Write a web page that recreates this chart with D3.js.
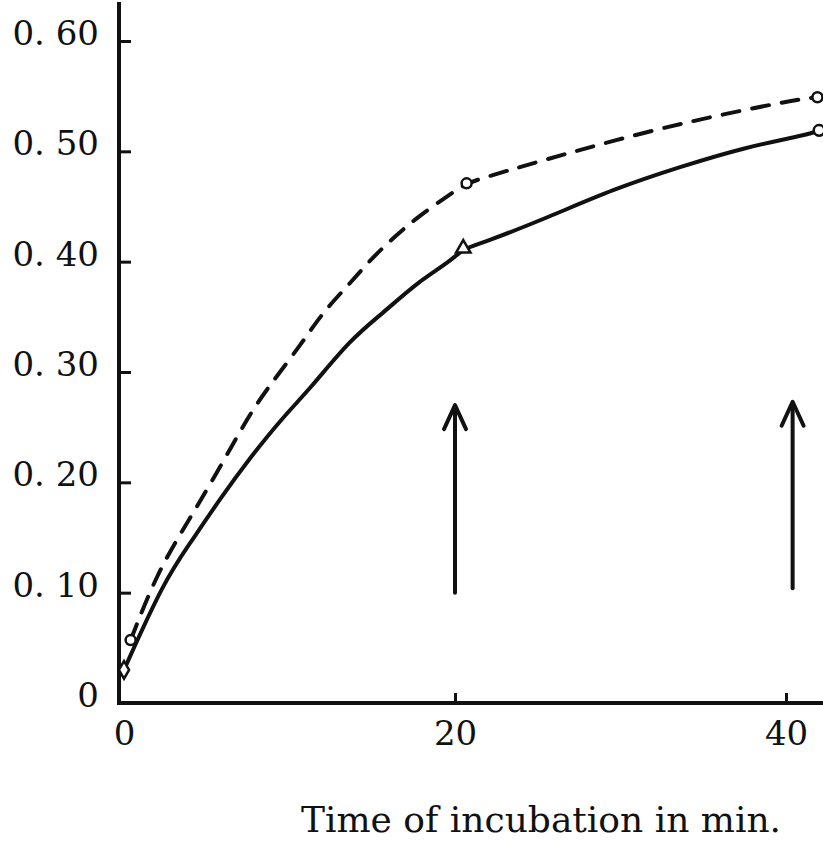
<!DOCTYPE html>
<html>
  <head>
    <title>Time of incubation</title>
    <script src="https://d3js.org/d3.v7.min.js"></script>
    <style>
      body { margin: 0; background: #fff; }
      text { font-family: "DejaVu Serif", serif; fill: #111; }
    </style>
  </head>
  <body>
    <script>
      // Values (time in min, absorbance-like value)
      const solidTime  = [0, 2.4, 4.0, 5.8, 7.6, 9.6, 11.2, 13.7, 15.7, 17.7, 19.7, 20.5, 21.7, 25.6, 29.6, 33.6, 37.6, 41.3, 42.0];
      const solidValue = [0.030, 0.110, 0.145, 0.185, 0.222, 0.259, 0.284, 0.330, 0.354, 0.381, 0.400, 0.412, 0.417, 0.440, 0.466, 0.486, 0.504, 0.515, 0.519];
      const dashedTime  = [0.4, 2.0, 3.8, 5.6, 7.4, 8.6, 10.8, 12.0, 13.7, 14.9, 16.3, 17.7, 19.5, 20.7, 21.7, 26.5, 31.6, 36.6, 40.7, 41.9];
      const dashedValue = [0.057, 0.118, 0.163, 0.208, 0.257, 0.284, 0.327, 0.354, 0.381, 0.402, 0.422, 0.440, 0.459, 0.471, 0.476, 0.497, 0.518, 0.535, 0.547, 0.549];

      // measured points (markers)
      const solidPtTime  = [0, 20.5, 42.0];
      const solidPtValue = [0.030, 0.412, 0.519];
      const dashedPtTime  = [0.4, 20.7, 41.9];
      const dashedPtValue = [0.057, 0.471, 0.549];

      // arrows
      const arrowTime = [20.0, 40.4];
      const arrowFrom = [0.100, 0.104];
      const arrowTo   = [0.270, 0.273];

      const yTicks = [0, 0.1, 0.2, 0.3, 0.4, 0.5, 0.6];
      const xTicks = [0, 20, 40];
      const xTitle = "Time of incubation in min.";

      const width = 823, height = 843;
      const x = d3.scaleLinear().domain([0, 40]).range([124, 786]);
      const y = d3.scaleLinear().domain([0, 0.6]).range([703, 41]);

      const svg = d3.select("body").append("svg")
        .attr("width", width)
        .attr("height", height);

      // y axis
      const yAxis = d3.axisLeft(y)
        .tickValues(yTicks)
        .tickSize(-12)
        .tickSizeOuter(0)
        .tickPadding(20)
        .tickFormat(d => d === 0 ? "0" : d3.format(".2f")(d).replace(".", ". "));
      const gy = svg.append("g")
        .attr("transform", `translate(${x(0) - 5},0)`)
        .call(yAxis);
      gy.select(".domain").remove();
      gy.selectAll(".tick line").attr("stroke", "#111").attr("stroke-width", 3);
      gy.selectAll(".tick text")
        .attr("font-size", 34)
        .attr("dy", "0.1em");
      gy.selectAll(".tick").filter(d => d === 0).select("line").remove();

      // x axis
      const xAxis = d3.axisBottom(x)
        .tickValues(xTicks)
        .tickSize(-10)
        .tickSizeOuter(0)
        .tickPadding(18)
        .tickFormat(d3.format("d"));
      const gx = svg.append("g")
        .attr("transform", `translate(0,${y(0)})`)
        .call(xAxis);
      gx.select(".domain").remove();
      gx.selectAll(".tick line").attr("stroke", "#111").attr("stroke-width", 3);
      gx.selectAll(".tick").filter(d => d === 0).select("line").remove();
      gx.selectAll(".tick text").attr("font-size", 34);

      // axis lines
      svg.append("line")
        .attr("x1", x(0) - 5).attr("x2", x(0) - 5)
        .attr("y1", 2).attr("y2", y(0) + 2)
        .attr("stroke", "#111").attr("stroke-width", 4);
      svg.append("line")
        .attr("x1", x(0) - 7).attr("x2", width)
        .attr("y1", y(0)).attr("y2", y(0))
        .attr("stroke", "#111").attr("stroke-width", 4);

      // curves (smoothed through the read points)
      const line = d3.line()
        .x(d => x(d[0]))
        .y(d => y(d[1]))
        .curve(d3.curveBasis);

      svg.append("path")
        .datum(solidTime.map((t, i) => [t, solidValue[i]]))
        .attr("d", line)
        .attr("fill", "none")
        .attr("stroke", "#111")
        .attr("stroke-width", 4)
        .attr("stroke-linecap", "round");

      svg.append("path")
        .datum(dashedTime.map((t, i) => [t, dashedValue[i]]))
        .attr("d", line)
        .attr("fill", "none")
        .attr("stroke", "#111")
        .attr("stroke-width", 4)
        .attr("stroke-dasharray", "17 13")
        .attr("stroke-linecap", "round");

      // markers
      const solidShapes = [d3.symbolDiamond, d3.symbolTriangle, d3.symbolCircle];
      svg.selectAll(".solid-pt")
        .data(solidPtTime.map((t, i) => [t, solidPtValue[i], solidShapes[i]]))
        .join("path")
        .attr("class", "solid-pt")
        .attr("transform", d => `translate(${x(d[0])},${y(d[1])})`)
        .attr("d", d => d3.symbol().type(d[2]).size(90)())
        .attr("fill", "#fff")
        .attr("stroke", "#111")
        .attr("stroke-width", 2.5);

      svg.selectAll(".dashed-pt")
        .data(dashedPtTime.map((t, i) => [t, dashedPtValue[i]]))
        .join("circle")
        .attr("class", "dashed-pt")
        .attr("cx", d => x(d[0]))
        .attr("cy", d => y(d[1]))
        .attr("r", 5)
        .attr("fill", "#fff")
        .attr("stroke", "#111")
        .attr("stroke-width", 2.5);

      // arrows
      const arrows = svg.selectAll(".arrow")
        .data(arrowTime.map((t, i) => ({ t, from: arrowFrom[i], to: arrowTo[i] })))
        .join("g")
        .attr("class", "arrow")
        .attr("stroke", "#111")
        .attr("stroke-width", 4)
        .attr("stroke-linecap", "round")
        .attr("fill", "none");
      arrows.append("line")
        .attr("x1", d => x(d.t)).attr("x2", d => x(d.t))
        .attr("y1", d => y(d.from)).attr("y2", d => y(d.to) + 2);
      arrows.append("path")
        .attr("d", d => `M${x(d.t) - 11},${y(d.to) + 24} L${x(d.t)},${y(d.to)} L${x(d.t) + 11},${y(d.to) + 24}`)
        .attr("stroke-linejoin", "round");

      // axis title
      svg.append("text")
        .attr("x", 541)
        .attr("y", 832)
        .attr("text-anchor", "middle")
        .attr("font-size", 36)
        .text(xTitle);
    </script>
  </body>
</html>
